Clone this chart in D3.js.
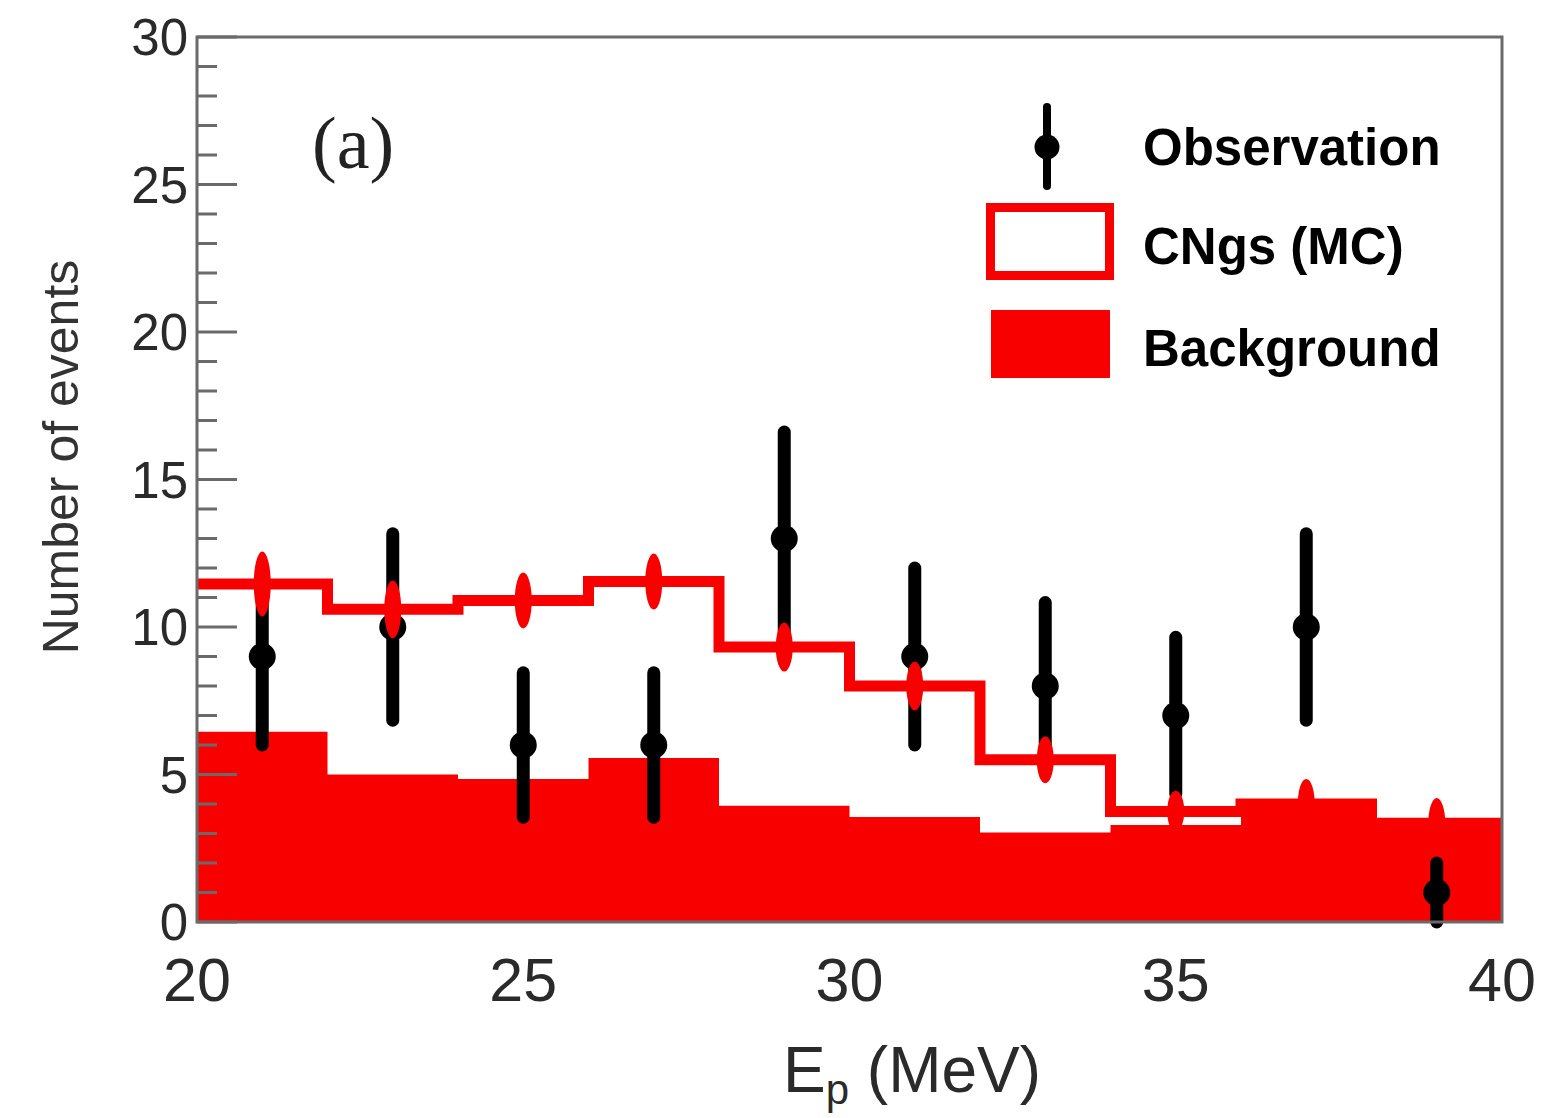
<!DOCTYPE html>
<html>
<head>
<meta charset="utf-8">
<script src="https://cdn.jsdelivr.net/npm/d3@7"></script>
<style>
  html, body { margin: 0; padding: 0; background: #fff; }
  svg { display: block; }
</style>
</head>
<body>
<svg id="chart" width="1547" height="1118"></svg>
<script>
// ---- data ----
const binEdges   = [20, 22, 24, 26, 28, 30, 32, 34, 36, 38, 40];
const background = [6.45, 5.0, 4.85, 5.56, 3.94, 3.56, 3.03, 3.29, 4.0, 3.35];
const cngsMC     = [11.46, 10.6, 10.9, 11.54, 9.32, 8.0, 5.5, 3.75, 4.0, 3.35];
const cngsErr    = [1.1, 0.98, 0.95, 0.95, 0.83, 0.83, 0.8, 0.7, 0.85, 0.85];
const obsX       = [21, 23, 25, 27, 29, 31, 33, 35, 37, 39];
const obsY       = [9, 10, 6, 6, 13, 9, 8, 7, 10, 1];
const obsErr     = [3, 3.16, 2.45, 2.45, 3.61, 3, 2.83, 2.65, 3.16, 1];
const xTicks     = [20, 25, 30, 35, 40];
const yTicks     = [0, 5, 10, 15, 20, 25, 30];
const yMinor     = d3.range(0, 31, 1);
const legendLabels = ["Observation", "CNgs (MC)", "Background"];

// ---- layout ----
const L = 197, R = 1502, T = 37, B = 922;
const RED = "#f80000", GRAY = "#6a6a6a";
const x = d3.scaleLinear().domain([20, 40]).range([L, R]);
const y = d3.scaleLinear().domain([0, 30]).range([B, T]);

const svg = d3.select("#chart");
svg.append("defs").append("clipPath").attr("id", "plotclip")
  .append("rect").attr("x", L).attr("y", T).attr("width", R - L).attr("height", B - T);

// step points
function stepPts(vals) {
  const pts = vals.map((v, i) => [binEdges[i], v]);
  pts.push([binEdges[binEdges.length - 1], vals[vals.length - 1]]);
  return pts;
}

// Background filled histogram
const area = d3.area().curve(d3.curveStepAfter)
  .x(d => x(d[0])).y0(y(0)).y1(d => y(d[1]));
svg.append("path").datum(stepPts(background))
  .attr("d", area).attr("fill", RED).attr("clip-path", "url(#plotclip)");

// Observation points with error bars
const obs = svg.append("g");
obsX.forEach((xv, i) => {
  obs.append("line")
    .attr("x1", x(xv)).attr("x2", x(xv))
    .attr("y1", y(obsY[i] - obsErr[i])).attr("y2", y(obsY[i] + obsErr[i]))
    .attr("stroke", "#000").attr("stroke-width", 13).attr("stroke-linecap", "round");
  obs.append("circle").attr("cx", x(xv)).attr("cy", y(obsY[i])).attr("r", 13.5).attr("fill", "#000");
});

// CNgs MC step line
const line = d3.line().curve(d3.curveStepAfter).x(d => x(d[0])).y(d => y(d[1]));
svg.append("path").datum(stepPts(cngsMC))
  .attr("d", line).attr("fill", "none").attr("stroke", RED).attr("stroke-width", 11)
  .attr("stroke-linejoin", "miter").attr("clip-path", "url(#plotclip)");

// CNgs MC error ellipses
cngsMC.forEach((v, i) => {
  const cx = x((binEdges[i] + binEdges[i + 1]) / 2);
  svg.append("ellipse").attr("cx", cx).attr("cy", y(v))
    .attr("rx", 8.5).attr("ry", y(0) - y(cngsErr[i]))
    .attr("fill", RED);
});

// frame
svg.append("rect").attr("x", L).attr("y", T).attr("width", R - L).attr("height", B - T)
  .attr("fill", "none").attr("stroke", GRAY).attr("stroke-width", 3);

// y ticks (inward)
const ticks = svg.append("g");
yMinor.forEach(v => {
  const major = yTicks.includes(v);
  ticks.append("line").attr("x1", L).attr("x2", L + (major ? 40 : 20))
    .attr("y1", y(v)).attr("y2", y(v)).attr("stroke", GRAY).attr("stroke-width", 3);
});

// y tick labels
yTicks.forEach(v => {
  svg.append("text").attr("x", 188).attr("y", y(v) + 18)
    .attr("text-anchor", "end").attr("font-family", "Liberation Sans, Arial, sans-serif")
    .attr("font-size", 51).attr("fill", "#2a2a2a").text(v);
});
// x tick labels
xTicks.forEach(v => {
  svg.append("text").attr("x", x(v)).attr("y", 1001)
    .attr("text-anchor", "middle").attr("font-family", "Liberation Sans, Arial, sans-serif")
    .attr("font-size", 61).attr("fill", "#2a2a2a").text(v);
});

// axis titles
svg.append("text").attr("transform", "translate(78,457) rotate(-90)")
  .attr("text-anchor", "middle").attr("font-family", "Liberation Sans, Arial, sans-serif")
  .attr("font-size", 50).attr("fill", "#333").text("Number of events");

const xt = svg.append("text").attr("x", 783).attr("y", 1092)
  .attr("font-family", "Liberation Sans, Arial, sans-serif").attr("font-size", 64).attr("fill", "#2a2a2a");
xt.append("tspan").text("E");
xt.append("tspan").attr("font-size", 42).attr("dy", 12).text("p");
xt.append("tspan").attr("dy", -12).text(" (MeV)");

// panel label
svg.append("text").attr("x", 312).attr("y", 168)
  .attr("font-family", "Liberation Serif, Times New Roman, serif")
  .attr("font-size", 74).attr("fill", "#222").text("(a)");

// legend
const lg = svg.append("g");
lg.append("line").attr("x1", 1047).attr("x2", 1047).attr("y1", 107).attr("y2", 186)
  .attr("stroke", "#000").attr("stroke-width", 8).attr("stroke-linecap", "round");
lg.append("circle").attr("cx", 1047).attr("cy", 147).attr("r", 12.5).attr("fill", "#000");
lg.append("rect").attr("x", 990.5).attr("y", 207.5).attr("width", 119).attr("height", 68)
  .attr("fill", "none").attr("stroke", RED).attr("stroke-width", 9);
lg.append("rect").attr("x", 991).attr("y", 310).attr("width", 119).attr("height", 68)
  .attr("fill", RED);
const legY = [165, 264, 366];
legendLabels.forEach((t, i) => {
  lg.append("text").attr("x", 1143).attr("y", legY[i])
    .attr("font-family", "Liberation Sans, Arial, sans-serif").attr("font-weight", "bold")
    .attr("font-size", 51).attr("fill", "#000").text(t);
});
</script>
</body>
</html>
